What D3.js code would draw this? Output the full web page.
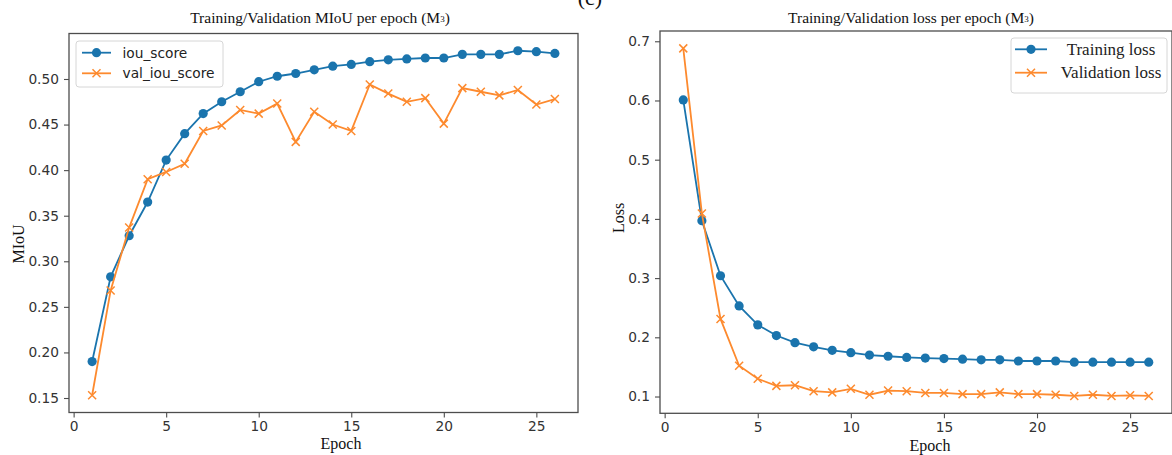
<!DOCTYPE html>
<html>
<head>
<meta charset="utf-8">
<script src="https://cdn.jsdelivr.net/npm/d3@7"></script>
<style>
  body { margin: 0; background: #fff; }
  svg { display: block; }
</style>
</head>
<body>
<svg id="chart"></svg>
<script>

// epochs shared by both panels
const epochs = d3.range(1, 27)

const iouScore = [0.190, 0.283, 0.328, 0.365, 0.411, 0.440, 0.462, 0.475, 0.486, 0.497,
    0.503, 0.506, 0.510, 0.514, 0.516, 0.519, 0.521, 0.522, 0.523, 0.523,
    0.527, 0.527, 0.527, 0.531, 0.530, 0.528]

const valIouScore = [0.153, 0.268, 0.337, 0.390, 0.398, 0.407, 0.443, 0.449, 0.466, 0.462,
    0.473, 0.431, 0.464, 0.450, 0.443, 0.494, 0.484, 0.475, 0.479, 0.451,
    0.490, 0.486, 0.482, 0.488, 0.472, 0.478]

const trainLoss = [0.601, 0.397, 0.304, 0.253, 0.221, 0.203, 0.191, 0.184, 0.178, 0.174,
    0.170, 0.168, 0.166, 0.165, 0.164, 0.163, 0.162, 0.162, 0.160, 0.160,
    0.160, 0.158, 0.158, 0.158, 0.158, 0.158]

const valLoss = [0.688, 0.409, 0.231, 0.152, 0.130, 0.118, 0.119, 0.109, 0.107, 0.113,
    0.103, 0.110, 0.109, 0.106, 0.106, 0.104, 0.104, 0.107, 0.104, 0.104,
    0.103, 0.101, 0.103, 0.101, 0.102, 0.101]

const xTicks = [0, 5, 10, 15, 20, 25]
const iouTicks = [0.15, 0.20, 0.25, 0.30, 0.35, 0.40, 0.45, 0.50]
const lossTicks = [0.1, 0.2, 0.3, 0.4, 0.5, 0.6, 0.7]

const blue = '#1a74ad'
const orange = '#fd8a2e'
const sans = 'DejaVu Sans, sans-serif'
const serif = 'Liberation Serif, Times New Roman, serif'

var width = 1172
var height = 455

var svg = d3.select('#chart')
    .attr('width', width)
    .attr('height', height)

svg.append('rect').attr('width', width).attr('height', height).attr('fill', '#fff')


// matplotlib style 5% margins
function padded(values) {
    const ext = d3.extent(values)
    const pad = (ext[1] - ext[0]) * 0.05
    return [ext[0] - pad, ext[1] + pad]
}


function drawPanel(opt) {

    const g = svg.append('g')

    const x = d3.scaleLinear()
        .domain(padded(epochs))
        .range([opt.left, opt.right])

    const y = d3.scaleLinear()
        .domain(padded(opt.series[0].values.concat(opt.series[1].values)))
        .range([opt.bottom, opt.top])

    // frame
    g.append('rect')
        .attr('x', opt.left)
        .attr('y', opt.top)
        .attr('width', opt.right - opt.left)
        .attr('height', opt.bottom - opt.top)
        .attr('fill', 'none')
        .attr('stroke', '#4d4d4d')
        .attr('stroke-width', 1.3)

    const xAxis = g.append('g')
        .attr('transform', `translate(0,${opt.bottom})`)
        .call(d3.axisBottom(x).tickValues(xTicks).tickSize(5).tickPadding(4).tickFormat(d3.format('d')))

    const yAxis = g.append('g')
        .attr('transform', `translate(${opt.left},0)`)
        .call(d3.axisLeft(y).tickValues(opt.ticks).tickSize(5).tickPadding(5).tickFormat(d3.format(opt.fmt)))

    for (const ax of [xAxis, yAxis]) {
        ax.select('.domain').remove()
        ax.selectAll('line').attr('stroke', '#4d4d4d').attr('stroke-width', 1.1)
        ax.selectAll('text')
            .attr('fill', '#333')
            .style('font-family', sans)
            .style('font-size', '13.75px')
    }

    const line = d3.line()
        .x((d, i) => x(epochs[i]))
        .y(d => y(d))

    opt.series.forEach(s => {
        g.append('path')
            .datum(s.values)
            .attr('d', line)
            .attr('fill', 'none')
            .attr('stroke', s.color)
            .attr('stroke-width', 1.8)

        const pts = g.append('g').selectAll('g')
            .data(s.values)
            .join('g')
            .attr('transform', (d, i) => `translate(${x(epochs[i])},${y(d)})`)

        drawMarker(pts, s)
    })

    // title
    const t = svg.append('text')
        .attr('x', opt.titleX)
        .attr('y', 17)
        .attr('text-anchor', 'middle')
        .attr('dominant-baseline', 'central')
        .style('font-family', serif)
        .style('font-size', '15.5px')
        .attr('fill', '#111')
    t.append('tspan').text(opt.title)
    t.append('tspan').attr('font-size', '9px').attr('dy', 2).text('3')
    t.append('tspan').attr('dy', -2).text(')')

    svg.append('text')
        .attr('x', opt.xLabel[0])
        .attr('y', opt.xLabel[1])
        .attr('text-anchor', 'middle')
        .attr('dominant-baseline', 'central')
        .style('font-family', serif)
        .style('font-size', '16px')
        .attr('fill', '#111')
        .text('Epoch')

    svg.append('text')
        .attr('transform', `translate(${opt.yLabel[0]},${opt.yLabel[1]}) rotate(-90)`)
        .attr('text-anchor', 'middle')
        .attr('dominant-baseline', 'central')
        .style('font-family', serif)
        .style('font-size', '16px')
        .attr('fill', '#111')
        .text(opt.yTitle)

    // legend
    const lg = opt.legend
    const legend = svg.append('g')
    legend.append('rect')
        .attr('x', lg.x)
        .attr('y', lg.y)
        .attr('width', lg.w)
        .attr('height', lg.h)
        .attr('rx', 3)
        .attr('fill', 'rgba(255,255,255,0.85)')
        .attr('stroke', '#d6d6d6')

    opt.series.forEach((s, i) => {
        const ey = lg.rows[i]
        legend.append('line')
            .attr('x1', lg.hx[0]).attr('x2', lg.hx[1])
            .attr('y1', ey).attr('y2', ey)
            .attr('stroke', s.color)
            .attr('stroke-width', 1.8)
        const m = legend.append('g')
            .attr('transform', `translate(${(lg.hx[0] + lg.hx[1]) / 2},${ey})`)
        drawMarker(m, s)
        legend.append('text')
            .attr('x', lg.tx)
            .attr('y', ey)
            .attr('text-anchor', lg.anchor)
            .attr('dominant-baseline', 'central')
            .style('font-family', lg.font)
            .style('font-size', lg.size)
            .attr('fill', '#222')
            .text(s.name)
    })
}


function drawMarker(sel, s) {
    if (s.marker === 'o') {
        sel.append('circle')
            .attr('r', 4.6)
            .attr('fill', s.color)
    } else {
        sel.append('path')
            .attr('d', 'M-4,-4L4,4M-4,4L4,-4')
            .attr('stroke', s.color)
            .attr('stroke-width', 1.5)
            .attr('fill', 'none')
    }
}


drawPanel({
    left: 69, right: 578, top: 33.5, bottom: 412.5,
    ticks: iouTicks, fmt: '.2f',
    title: 'Training/Validation MIoU per epoch (M',
    titleX: 320,
    xLabel: [341, 443],
    yLabel: [18, 244],
    yTitle: 'MIoU',
    series: [
        { name: 'iou_score', values: iouScore, color: blue, marker: 'o' },
        { name: 'val_iou_score', values: valIouScore, color: orange, marker: 'x' }
    ],
    legend: {
        x: 76, y: 41, w: 147, h: 46, rows: [52.7, 73.3], hx: [82, 111],
        tx: 122.5, anchor: 'start', font: sans, size: '13.75px'
    }
})

drawPanel({
    left: 660, right: 1172, top: 31, bottom: 413.3,
    ticks: lossTicks, fmt: '.1f',
    title: 'Training/Validation loss per epoch (M',
    titleX: 911,
    xLabel: [930, 445],
    yLabel: [618, 218],
    yTitle: 'Loss',
    series: [
        { name: 'Training loss', values: trainLoss, color: blue, marker: 'o' },
        { name: 'Validation loss', values: valLoss, color: orange, marker: 'x' }
    ],
    legend: {
        x: 1011, y: 38, w: 156, h: 55, rows: [49.3, 72.7], hx: [1015, 1047],
        tx: 1111, anchor: 'middle', font: serif, size: '17px'
    }
})

// panel letter, cut off by the top edge in the original
svg.append('text')
    .attr('x', 590)
    .attr('y', 5)
    .attr('text-anchor', 'middle')
    .style('font-family', serif)
    .style('font-size', '22px')
    .attr('fill', '#111')
    .text('(c)')

</script>
</body>
</html>
